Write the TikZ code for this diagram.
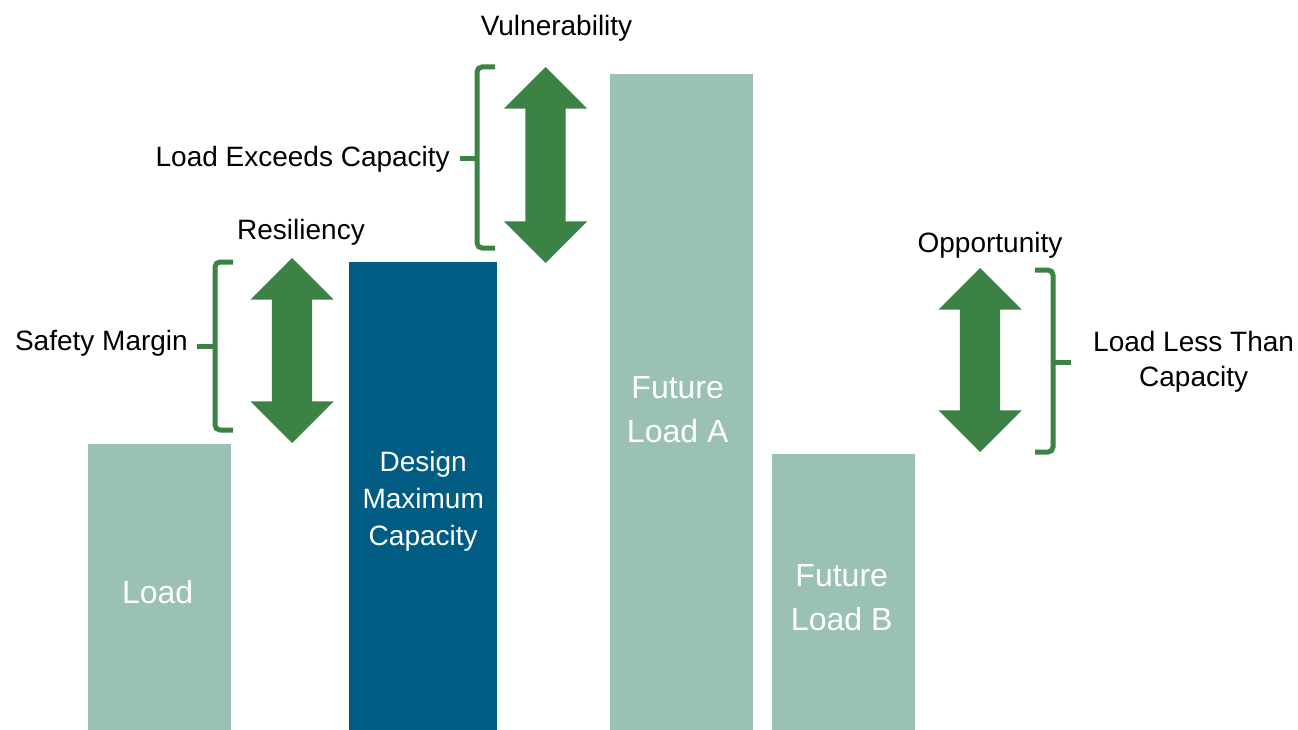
\documentclass[tikz,border=0pt]{standalone}
\usepackage{fontspec}
\setmainfont{Liberation Sans}
\usepackage{xcolor}
\usetikzlibrary{calc,shapes,shapes.arrows,positioning}

\definecolor{loadteal}{HTML}{9BC1B7}
\definecolor{capblue}{HTML}{005C83}
\definecolor{margingreen}{HTML}{3B8244}

\begin{document}
\begin{tikzpicture} [x=1pt, y=-1pt,
       loadbar/.style 2 args = {rectangle, anchor=south west, inner sep=0pt,
                                minimum width=#1, minimum height=#2, fill=loadteal},
       capbar/.style 2 args = {rectangle, anchor=south west, inner sep=0pt,
                               minimum width=#1, minimum height=#2, fill=capblue},
       marginarrow/.style = {double arrow, shape border rotate=90, inner sep=20pt,
                             minimum width=83pt, minimum height=#1,
                             double arrow head extend=21.5pt, fill=margingreen},
       brace/.style = {draw=margingreen, line width=5pt, rounded corners=5pt},
       blacktext/.style = {inner sep=0pt, align=center,
                           font=\fontsize{28}{35}\selectfont},
       whitetext/.style 2 args = {inner sep=0pt, text=white, align=center,
                                  font=\fontsize{#1}{#2}\selectfont}]
	\useasboundingbox (0,0) rectangle (1298,730);
	%% Bars
	\node [loadbar={143}{286}] (load) at (88,730) {};
	\node [capbar={148}{468}] (design) at (349,730) {};
	\node [loadbar={143}{656}] (futa) at (610,730) {};
	\node [loadbar={143}{276}] (futb) at (772,730) {};
	\node [whitetext={32}{44}, anchor=base] (loadtxt) at ($(load.north)+(-2,160)$) {Load};
	\node [whitetext={28}{37}] (designtxt) at ($(design.north)+(0,240)$) {Design\\Maximum\\Capacity};
	\node [whitetext={32}{44}] (futatxt) at ($(futa.north)+(-4,336)$) {Future\\Load A};
	\node [whitetext={32}{44}] (futbtxt) at ($(futb.north)+(-2,144)$) {Future\\Load B};
	%% Margins
	\node [marginarrow=185pt] (safety) at (292,350.5) {};
	\node [marginarrow=196pt] (vuln) at (545.5,165) {};
	\node [marginarrow=184pt] (oppo) at (980,360) {};
	\node [blacktext, anchor=base] (resil) at (301,240) {Resiliency};
	\node [blacktext, anchor=base] (vulntxt) at (556.5,36) {Vulnerability};
	\node [blacktext, anchor=base] (opptxt) at (990,252) {Opportunity};
	%% Braces
	\coordinate (smtip) at (197,346);
	\coordinate (lectip) at (460,159);
	\coordinate (lltip) at (1071,362);
	\draw [brace] (233,262) -- (215,262) -- (215,430) -- (233,430);
	\draw [brace] (215,346) -- (smtip);
	\draw [brace] (495,67) -- (477,67) -- (477,248) -- (495,248);
	\draw [brace] (477,159) -- (lectip);
	\draw [brace] (1035,270) -- (1053,270) -- (1053,452) -- (1035,452);
	\draw [brace] (1053,362) -- (lltip);
	\node [blacktext, anchor=base east] (smtxt) at ($(smtip)+(-9,4)$) {Safety Margin};
	\node [blacktext, anchor=base east] (lectxt) at ($(lectip)+(-10,8)$) {Load Exceeds Capacity};
	\node [blacktext, right=22pt of lltip] (lltxt) {Load Less Than\\Capacity};
\end{tikzpicture}
\end{document}
